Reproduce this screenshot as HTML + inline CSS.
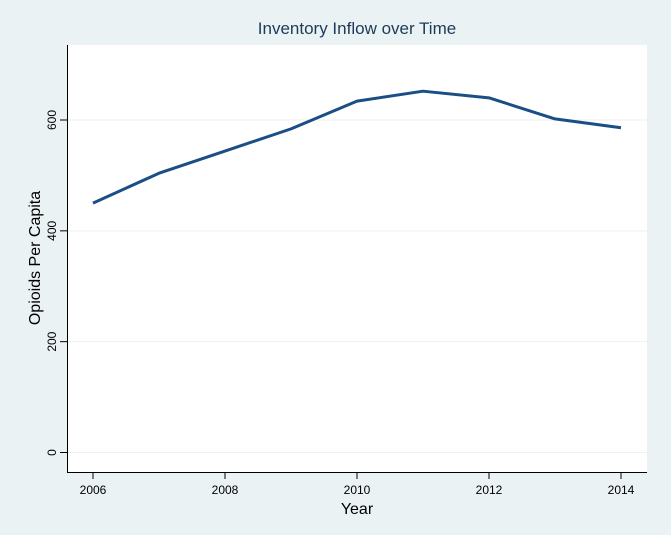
<!DOCTYPE html>
<html><head><meta charset="utf-8"><style>
html,body{margin:0;padding:0;background:#eaf2f3;}
svg{display:block;font-family:"Liberation Sans",Arial,sans-serif;}
</style></head><body>
<svg id="chart" width="671" height="535">
<rect x="0" y="0" width="671" height="535" fill="#eaf2f3"/>
<rect x="67" y="45" width="580" height="427" fill="#ffffff"/>
<text x="357" y="34" text-anchor="middle" font-size="17" fill="#1e3a5a">Inventory Inflow over Time</text>
<text x="357" y="514" text-anchor="middle" font-size="16" fill="#000">Year</text>
<text transform="translate(40,258) rotate(-90)" text-anchor="middle" font-size="16" fill="#000">Opioids Per Capita</text>
<g id="grid"></g><g id="axes"></g><g id="series"></g>
</svg>
<script>
const years=[2006,2007,2008,2009,2010,2011,2012,2013,2014];
const values=[450,504,544,584,634,652,640,602,586];
const yTicks=[0,200,400,600];
const xTicks=[2006,2008,2010,2012,2014];
const ns="http://www.w3.org/2000/svg";
function xs(v){return 93+(v-2006)*66;}
function ys(v){return 452.5-v*(332.5/600);}
function mk(t,a,p){const e=document.createElementNS(ns,t);for(const k in a)e.setAttribute(k,a[k]);p.appendChild(e);return e;}
const grid=document.getElementById('grid'),axes=document.getElementById('axes'),series=document.getElementById('series');
yTicks.forEach(v=>{
 const g=mk('line',{x1:67,x2:647,y1:ys(v),y2:ys(v),stroke:'#eaf2f3','stroke-width':1},grid);
 
 
 const t=mk('line',{x1:60,x2:67,y1:ys(v),y2:ys(v),stroke:'#000','stroke-width':1},axes);
 
 
 const l=mk('text',{transform:`translate(56,${ys(v)}) rotate(-90)`,'text-anchor':'middle','font-size':12,fill:'#000'},axes);
 l.textContent=v;
 
 
});
xTicks.forEach(v=>{
 const t=mk('line',{x1:xs(v),x2:xs(v),y1:472,y2:479,stroke:'#000','stroke-width':1},axes);
 
 
 const l=mk('text',{x:xs(v),y:494,'text-anchor':'middle','font-size':12,fill:'#000'},axes);
 l.textContent=v;
 
 
});
const ya=mk('line',{x1:67.5,x2:67.5,y1:45,y2:472.5,stroke:'#000','stroke-width':1},axes);


const xa=mk('line',{x1:67,x2:647,y1:472.5,y2:472.5,stroke:'#000','stroke-width':1},axes);


const pl=mk('polyline',{points:years.map((y,i)=>xs(y)+','+ys(values[i])).join(' '),fill:'none',stroke:'#1a4e85','stroke-width':3,'stroke-linejoin':'round'},series);


</script>
</body></html>
